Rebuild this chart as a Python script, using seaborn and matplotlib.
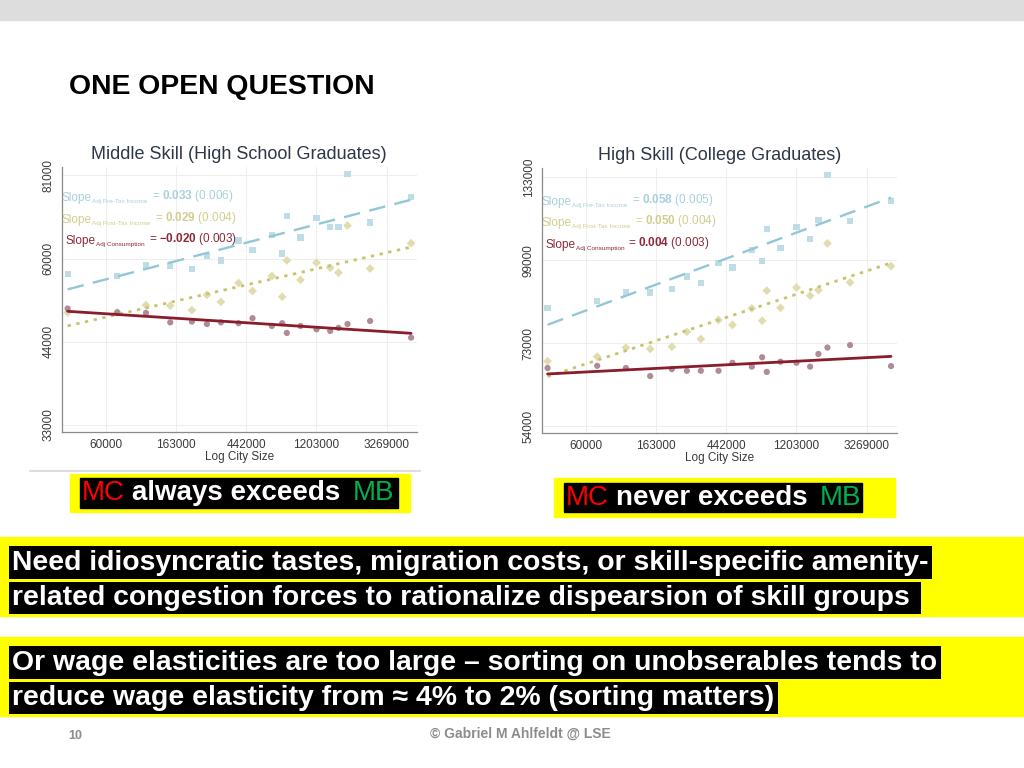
import matplotlib
matplotlib.use("Agg")
import matplotlib.pyplot as plt
from matplotlib.patches import Rectangle
from matplotlib.lines import Line2D
import seaborn as sns

# log city size of the city-size bins (same bins in both panels)
log_city_size = [10.454, 11.161, 11.570, 11.916, 12.225, 12.439, 12.638, 12.890, 13.089, 13.365,
                 13.512, 13.578, 13.773, 14.001, 14.196, 14.314, 14.443, 14.765, 15.349]

# middle skill (high school graduates), log of adjusted values
mid_pretax = [10.945, 10.937, 10.975, 10.975, 10.963, 11.008, 10.993, 11.065, 11.032, 11.086,
              11.018, 11.154, 11.076, 11.145, 11.115, 11.115, 11.304, 11.130, 11.223]
mid_posttax = [10.806, 10.806, 10.832, 10.830, 10.814, 10.869, 10.844, 10.912, 10.883, 10.937,
               10.862, 10.993, 10.923, 10.985, 10.967, 10.949, 11.119, 10.964, 11.055]
mid_consumption = [10.820, 10.806, 10.804, 10.770, 10.773, 10.764, 10.770, 10.767, 10.785, 10.757,
                   10.767, 10.732, 10.757, 10.745, 10.739, 10.750, 10.764, 10.775, 10.715]

# high skill (college graduates), log of adjusted values
high_pretax = [11.326, 11.352, 11.383, 11.383, 11.396, 11.441, 11.419, 11.489, 11.474, 11.537,
               11.498, 11.613, 11.545, 11.621, 11.577, 11.646, 11.808, 11.643, 11.714]
high_posttax = [11.135, 11.151, 11.184, 11.179, 11.187, 11.241, 11.215, 11.284, 11.266, 11.326,
                11.281, 11.390, 11.328, 11.401, 11.372, 11.392, 11.561, 11.420, 11.479]
high_consumption = [11.110, 11.118, 11.110, 11.081, 11.106, 11.100, 11.100, 11.100, 11.129, 11.115,
                    11.149, 11.096, 11.133, 11.129, 11.115, 11.161, 11.184, 11.193, 11.117]

x_ticks = [11, 12, 13, 14, 15]
x_tick_labels = ["60000", "163000", "442000", "1203000", "3269000"]
mid_y_ticks = [10.4, 10.7, 11.0, 11.3]
mid_y_tick_labels = ["33000", "44000", "60000", "81000"]
high_y_ticks = [10.9, 11.2, 11.5, 11.8]
high_y_tick_labels = ["54000", "73000", "99000", "133000"]

series_names = ["Adj Pre-Tax Income", "Adj Post-Tax Income", "Adj Consumption"]
mid_slopes = [("0.033", "0.006"), ("0.029", "0.004"), ("-0.020", "0.003")]
high_slopes = [("0.058", "0.005"), ("0.050", "0.004"), ("0.004", "0.003")]

styles = [
    dict(marker="s", pt="#bcdce5", line="#92c7d6", ls=(0, (7, 4)), lw=1.7, txt="#a9d0dc"),
    dict(marker="D", pt="#e0dbab", line="#c8c46c", ls=(0, (1.2, 2.0)), lw=2.0, txt="#d2ce90"),
    dict(marker="o", pt="#ab8592", line="#8a1c2c", ls="-", lw=2.0, txt="#8c2a3a"),
]

sns.set_theme(style="white")
plt.rcParams["font.family"] = ["Liberation Sans", "DejaVu Sans"]
plt.rcParams["mathtext.fontset"] = "custom"
plt.rcParams["mathtext.rm"] = "Liberation Sans"
plt.rcParams["mathtext.bf"] = "Liberation Sans:bold"

fig = plt.figure(figsize=(10.24, 7.68), dpi=100)
bg = fig.add_axes([0, 0, 1, 1])
bg.set_xlim(0, 1)
bg.set_ylim(0, 1)
bg.axis("off")


def px(x, y):
    return x / 1024, 1 - y / 768


def chain(ax, x, y, pieces, transform):
    # pieces: (text, fontsize, weight, color, gap_before_pt, dy_pt), laid out on one baseline
    prev = None
    for s, size, weight, color, gap, dy in pieces:
        if prev is None:
            prev = ax.text(x, y, s, transform=transform, fontsize=size, fontweight=weight,
                           color=color, va="baseline")
        else:
            prev = ax.annotate(s, xy=(1, y), xycoords=(prev, transform), xytext=(gap, dy),
                               textcoords="offset points", fontsize=size, fontweight=weight,
                               color=color, va="baseline", ha="left")
    return prev


def draw_panel(ax, title, series, yticks, ylabels, slopes, ylim, text_y):
    for vals, st in zip(series, styles):
        sns.regplot(x=log_city_size, y=vals, ax=ax, ci=None, truncate=True,
                    marker=st["marker"],
                    scatter_kws=dict(color=st["pt"], s=20, edgecolors="none", alpha=0.95),
                    line_kws=dict(color=st["line"], ls=st["ls"], lw=st["lw"]))
    ax.set_xlim(10.37, 15.43)
    ax.set_ylim(*ylim)
    ax.set_xticks(x_ticks)
    ax.set_xticklabels(x_tick_labels)
    ax.set_yticks(yticks)
    ax.set_yticklabels(ylabels, rotation=90, va="center")
    ax.grid(True, color="#eeeeee", lw=0.8)
    ax.set_axisbelow(True)
    for s in ["top", "right"]:
        ax.spines[s].set_visible(False)
    for s in ["left", "bottom"]:
        ax.spines[s].set_color("#8a8a8a")
        ax.spines[s].set_linewidth(0.9)
    ax.tick_params(direction="out", length=3, width=0.8, color="#8a8a8a",
                   labelsize=8.5, labelcolor="#3a3a3a", pad=2)
    ax.set_xlabel("Log City Size", fontsize=8.5, color="#3a3a3a", labelpad=0)
    ax.set_ylabel("")
    ax.set_title(title, fontsize=13, color="#2e3747", pad=6)
    for name, (b, se), st, ty, dx in zip(series_names, slopes, styles, text_y, [0.0, 0.0, 0.01]):
        chain(ax, dx, ty, [
            ("Slope", 8.5, "normal", st["txt"], 0, 0),
            (name, 4.6, "normal", st["txt"], 0.3, -1.5),
            ("= $\\mathbf{%s}$ (%s)" % (b, se), 8.5, "normal", st["txt"], 3.0, 1.5),
        ], ax.transAxes)


ax1 = fig.add_axes([0.0603, 0.4379, 0.3467, 0.3447])
draw_panel(ax1, "Middle Skill (High School Graduates)",
           [mid_pretax, mid_posttax, mid_consumption],
           mid_y_ticks, mid_y_tick_labels, mid_slopes, (10.376, 11.33), [0.873, 0.789, 0.709])

ax2 = fig.add_axes([0.529, 0.4366, 0.3467, 0.3447])
draw_panel(ax2, "High Skill (College Graduates)",
           [high_pretax, high_posttax, high_consumption],
           high_y_ticks, high_y_tick_labels, high_slopes, (10.876, 11.834), [0.861, 0.780, 0.697])

# slide decorations
bg.add_patch(Rectangle((0, 1 - 20 / 768), 1, 20 / 768, color="#dddddd", zorder=0))
bg.add_line(Line2D([30 / 1024, 420 / 1024], [1 - 471 / 768] * 2, color="#dddddd", lw=1.5))
bg.text(*px(69, 87), "ONE OPEN QUESTION", fontsize=20.4, fontweight="bold", color="black", va="center")

# MC / MB boxes: yellow panel, black highlight, coloured words
for yellow, black, base, verb in [((70, 474, 410, 512), (80, 478, 398, 508), 500, "always"),
                                  ((554, 478, 895, 517), (564, 483, 862, 512), 505, "never")]:
    for (x0, y0, x1, y1), c in [(yellow, "#ffff00"), (black, "black")]:
        bg.add_patch(Rectangle(px(x0, y1), (x1 - x0) / 1024, (y1 - y0) / 768, color=c, zorder=0))
    bx, by = px(black[0] + 2, base)
    chain(bg, bx, by, [
        ("MC", 20, "normal", "#ff0000", 0, 0),
        ("%s exceeds" % verb, 20, "bold", "white", 5.2, 0),
        ("MB", 20, "normal", "#00b050", 8.5, 0),
    ], bg.transData)

# two full-width statement boxes
black_box = dict(boxstyle="square,pad=0.12", fc="black", ec="none")
statements = [
    ((537, 616), ["Need idiosyncratic tastes, migration costs, or skill-specific amenity-",
                  "related congestion forces to rationalize dispearsion of skill groups "]),
    ((637, 716), ["Or wage elasticities are too large \u2013 sorting on unobserables tends to",
                  "reduce wage elasticity from \u2248 4% to 2% (sorting matters)"]),
]
for (y0, y1), lines in statements:
    bg.add_patch(Rectangle(px(0, y1), 1, (y1 - y0) / 768, color="#ffff00", zorder=0))
    for i, line in enumerate(lines):
        bg.text(*px(12, y0 + 25.5 + 35.5 * i), line, fontsize=20.45, fontweight="bold",
                color="white", va="center", bbox=black_box)

bg.text(*px(75, 736), "10", fontsize=9, fontweight="bold", color="#8c8c8c", ha="center", va="center")
bg.text(*px(520, 734), "\u00a9 Gabriel M Ahlfeldt @ LSE", fontsize=10, fontweight="bold",
        color="#8c8c8c", ha="center", va="center")

fig.savefig("out.png", dpi=100)
